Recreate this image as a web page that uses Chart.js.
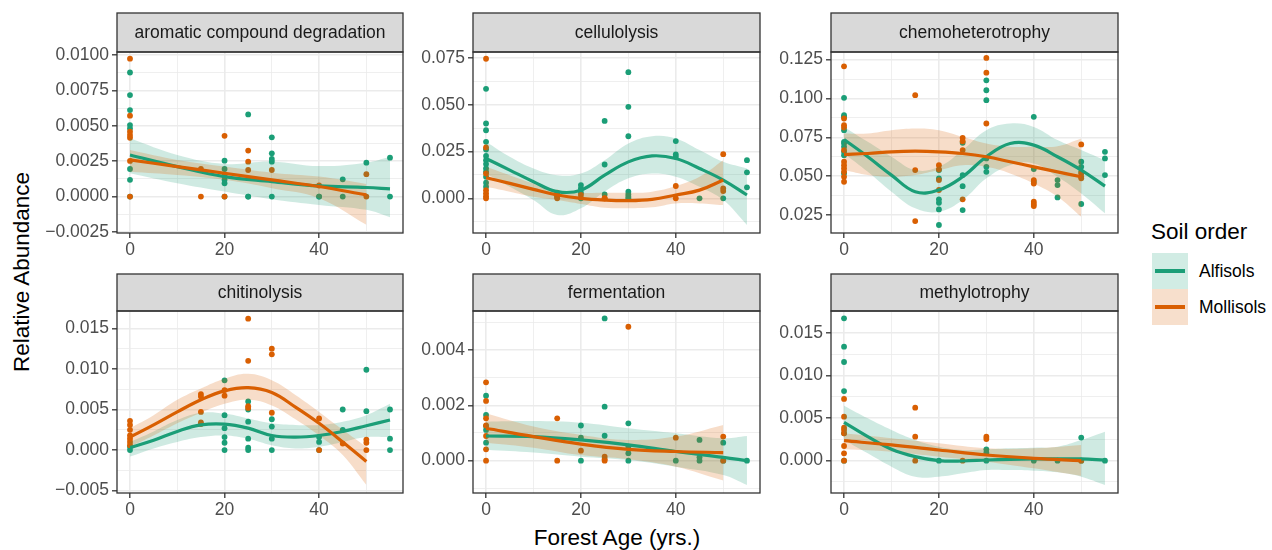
<!DOCTYPE html>
<html lang="en">
<head>
<meta charset="UTF-8">
<title>Functional guilds vs forest age</title>
<script src="https://cdn.jsdelivr.net/npm/chart.js@4.4.1/dist/chart.umd.min.js"></script>
<style>
  body { margin: 0; width: 1272px; height: 550px; background: #fff; position: relative; overflow: hidden;
         font-family: "Liberation Sans", Arial, sans-serif; }
  canvas { position: absolute; }
  .txt { position: absolute; white-space: nowrap; }
  #ytitle { left: -128px; top: 259px; width: 300px; height: 26px; line-height: 26px; text-align: center;
            font-size: 22.5px; transform: rotate(-90deg); }
  #xtitle { left: 417px; top: 525px; width: 400px; line-height: 26px; text-align: center; font-size: 22.5px; }
  #legtitle { left: 1151px; top: 219px; font-size: 22.5px; line-height: 26px; }
  .key { position: absolute; left: 1152px; width: 36px; height: 36px; }
  .key i { position: absolute; left: 3px; width: 30px; height: 4px; top: 16px; }
  .lab { position: absolute; left: 1199px; font-size: 17.5px; line-height: 22px; color: #000; }
</style>
</head>
<body>

<div id="ytitle" class="txt">Relative Abundance</div>
<div id="xtitle" class="txt">Forest Age (yrs.)</div>
<div id="legtitle" class="txt">Soil order</div>
<div class="key" style="top:253px;background:#D1ECE4"><i style="background:#1B9E77"></i></div>
<div class="key" style="top:289px;background:#F7DFCC"><i style="background:#D95F02"></i></div>
<div class="lab" style="top:260px">Alfisols</div>
<div class="lab" style="top:296px">Mollisols</div>

<script>
// ---- axes ----
const xTicks = [0, 20, 40];
const xLabels = ['0', '20', '40'];
const xMinor = [10, 30, 50];

// ---- aromatic compound degradation ----
const aroAlfAge = [0,0,0,0,0,0,0,0, 20,20,20,20,20, 25,25,25, 30,30,30,30,30, 40,40, 45,45, 50, 55,55];
const aroAlfVal = [0.00878,0.00718,0.00612,0.00506,0.00482,0.00195,0.00118,0, 0.00254,0.00195,0.00118,0.00094,0,
                   0.00581,0,0, 0.00419,0.00306,0.00266,0.00247,0, 0,0, 0.00122,0, 0.0024, 0.00275,0];
const aroMolAge = [0,0,0,0,0,0,0, 15,15, 20,20,20, 25,25,25, 30, 40, 50,50];
const aroMolVal = [0.00976,0.00572,0.00459,0.00435,0.00416,0.00252,0, 0.00195,0, 0.0043,0.00148,0,
                   0.00325,0.00247,0.00188, 0.00188, 0.00078, 0.00158,0];
const aroAlfFitAge = [0, 10, 20, 30, 40, 50, 55];
const aroAlfFit = [0.00294, 0.00212, 0.00141, 0.00106, 0.00075, 0.00064, 0.00054];
const aroAlfHi  = [0.00412, 0.00294, 0.00231, 0.00247, 0.00216, 0.0024, 0.00282];
const aroAlfLo  = [0.00165, 0.00094, 0.00035, -0.00019, -0.00059, -0.00094, -0.00146];
const aroMolFitAge = [0, 10, 20, 30, 40, 50];
const aroMolFit = [0.00259, 0.00212, 0.00165, 0.00118, 0.00071, 0.00012];
const aroMolHi  = [0.00329, 0.00259, 0.00212, 0.00169, 0.00141, 0.00089];
const aroMolLo  = [0.00176, 0.00153, 0.00118, 0.00059, -0.00012, -0.002];
const aroTicks = [-0.0025, 0, 0.0025, 0.005, 0.0075, 0.01];
const aroLabels = ['\u22120.0025', '0.0000', '0.0025', '0.0050', '0.0075', '0.0100'];

// ---- cellulolysis ----
const celAlfAge = [0,0,0,0,0,0,0,0,0,0,0,0,0, 15,15, 20,20,20,20, 25,25,25, 30,30,30,30,30,30,30, 40,40,40, 45, 50, 55,55,55];
const celAlfVal = [0.0585,0.04,0.0364,0.0302,0.0261,0.0227,0.0204,0.0183,0.016,0.0142,0.0116,0.0084,0.0062,
                   0.0021,0.0009, 0.0071,0.0053,0.003,0, 0.0414,0.0181,0.0021,
                   0.0674,0.0489,0.0332,0.0036,0.0021,0.0009,0, 0.0306,0.0235,0.0222, 0, 0, 0.0204,0.0139,0.0059];
const celMolAge = [0,0,0,0,0,0,0, 15,15,15, 20, 25,25, 40,40, 50,50,50];
const celMolVal = [0.0746,0.0272,0.0133,0.0044,0.0027,0.0012,0, 0.003,0.0012,0, 0.0018, 0.0001,0,
                   0.0066,0, 0.0236,0.0053,0.0039];
const celAlfFitAge = [0, 5, 10, 15, 20, 25, 30, 35, 40, 45, 50, 55];
const celAlfFit = [0.0213, 0.0151, 0.0089, 0.0036, 0.0044, 0.0124, 0.0195, 0.0227, 0.0213, 0.016, 0.0098, 0.0018];
const celAlfHi  = [0.0302, 0.0222, 0.016, 0.0124, 0.0133, 0.0204, 0.0293, 0.0332, 0.032, 0.0258, 0.0195, 0.016];
const celAlfLo  = [0.0133, 0.0062, -0.0009, -0.0089, -0.0053, 0.0036, 0.0107, 0.0133, 0.0116, 0.0062, -0.0009, -0.0142];
const celMolFitAge = [0, 5, 10, 15, 20, 25, 30, 35, 40, 45, 50];
const celMolFit = [0.011, 0.008, 0.0048, 0.0018, 0, -0.0009, -0.0012, -0.0005, 0.0018, 0.0044, 0.0098];
const celMolHi  = [0.0169, 0.0124, 0.008, 0.0044, 0.003, 0.003, 0.003, 0.0036, 0.0066, 0.0116, 0.0204];
const celMolLo  = [0.0062, 0.0036, 0.0009, -0.0009, -0.003, -0.005, -0.0053, -0.0048, -0.0027, -0.0027, -0.0036];
const celTicks = [0, 0.025, 0.05, 0.075];
const celLabels = ['0.000', '0.025', '0.050', '0.075'];

// ---- chemoheterotrophy ----
const cheAlfAge = [0,0,0,0,0,0,0,0,0,0, 20,20,20,20,20,20, 25,25,25,25, 30,30,30,30,30,30, 40,40,40, 45,45,45, 50,50,50,50, 55,55,55];
const cheAlfVal = [0.1004,0.0892,0.0882,0.0796,0.0721,0.071,0.0689,0.0657,0.0635,0.0518,
                   0.0539,0.0486,0.0351,0.0329,0.0286,0.0186, 0.0715,0.0507,0.0436,0.0282,
                   0.1117,0.1053,0.0989,0.0614,0.056,0.0528, 0.0882,0.0546,0.0464,
                   0.0475,0.0443,0.0363, 0.0593,0.056,0.0528,0.0321, 0.0657,0.0614,0.0507];
const cheMolAge = [0,0,0,0,0,0,0,0,0,0,0, 15,15,15, 20,20,20,20, 25,25,25,25, 30,30,30, 40,40,40,40,40, 50,50,50,50];
const cheMolVal = [0.1207,0.0871,0.0828,0.0813,0.0668,0.0593,0.0571,0.055,0.0528,0.0496,0.0464,
                   0.1021,0.0539,0.0211, 0.0571,0.0543,0.0475,0.0411, 0.0747,0.0725,0.0668,0.0351,
                   0.1261,0.1166,0.0839, 0.0475,0.0453,0.0336,0.0321,0.0308, 0.0704,0.0518,0.0496,0.0486];
const cheAlfFitAge = [0, 5, 10, 15, 20, 25, 30, 35, 40, 45, 50, 55];
const cheAlfFit = [0.0736, 0.0625, 0.0507, 0.04, 0.0411, 0.0496, 0.0625, 0.071, 0.07, 0.0625, 0.0539, 0.0436];
const cheAlfHi  = [0.0817, 0.0721, 0.0625, 0.0539, 0.056, 0.0668, 0.0796, 0.0839, 0.0817, 0.0732, 0.0668, 0.0603];
const cheAlfLo  = [0.0646, 0.0528, 0.04, 0.0293, 0.0271, 0.0346, 0.0486, 0.0571, 0.0582, 0.0496, 0.0389, 0.0261];
const cheMolFitAge = [0, 5, 10, 15, 20, 25, 30, 35, 40, 45, 50];
const cheMolFit = [0.064, 0.0646, 0.0657, 0.0661, 0.0657, 0.0646, 0.0625, 0.0593, 0.056, 0.0528, 0.0496];
const cheMolHi  = [0.0775, 0.0775, 0.0796, 0.0807, 0.0796, 0.0753, 0.071, 0.0689, 0.0689, 0.0693, 0.0743];
const cheMolLo  = [0.0539, 0.0507, 0.0496, 0.0507, 0.0539, 0.0571, 0.056, 0.0518, 0.0453, 0.0368, 0.0239];
const cheTicks = [0.025, 0.05, 0.075, 0.1, 0.125];
const cheLabels = ['0.025', '0.050', '0.075', '0.100', '0.125'];

// ---- chitinolysis ----
const chiAlfAge = [0,0, 20,20,20,20,20,20, 25,25,25,25,25,25, 30,30,30,30, 40,40,40, 45,45, 50,50, 55,55,55];
const chiAlfVal = [0.0004,0, 0.0086,0.0043,0.0027,0.0016,0.0009,0, 0.006,0.005,0.0035,0.0014,0.0003,0,
                   0.0038,0.0029,0.0014,0, 0.0016,0.001,0, 0.005,0.0025, 0.0099,0.0048, 0.005,0.0014,0];
const chiMolAge = [0,0,0,0,0,0,0, 15,15,15,15,15, 20,20, 25,25,25,25, 30,30,30, 40,40, 45, 50,50,50];
const chiMolVal = [0.0036,0.0031,0.0025,0.0018,0.0014,0.001,0.0006, 0.0069,0.0066,0.0047,0.0034,0.0032,
                   0.0074,0.0067, 0.0162,0.011,0.0054,0.0052, 0.0125,0.0118,0.0046, 0.0039,0, 0.0008, 0.0013,0.0009,0];
const chiAlfFitAge = [0, 5, 10, 15, 20, 25, 30, 35, 40, 45, 50, 55];
const chiAlfFit = [0.0003, 0.0012, 0.0023, 0.0031, 0.0032, 0.0027, 0.0018, 0.0016, 0.0018, 0.0023, 0.003, 0.0037];
const chiAlfHi  = [0.001, 0.0023, 0.0037, 0.0046, 0.0045, 0.0039, 0.0033, 0.0031, 0.0031, 0.0035, 0.0043, 0.0057];
const chiAlfLo  = [-0.0008, 0.0002, 0.001, 0.0016, 0.0018, 0.0014, 0.0006, 0.0002, 0.0004, 0.001, 0.0016, 0.0016];
const chiMolFitAge = [0, 5, 10, 15, 20, 25, 30, 35, 40, 45, 50];
const chiMolFit = [0.0016, 0.0031, 0.0047, 0.0062, 0.0073, 0.0077, 0.0071, 0.0053, 0.0033, 0.001, -0.0014];
const chiMolHi  = [0.0027, 0.0043, 0.0062, 0.0076, 0.0088, 0.0094, 0.0086, 0.0068, 0.0047, 0.0025, 0.0004];
const chiMolLo  = [0.0004, 0.0018, 0.0033, 0.0046, 0.0057, 0.0062, 0.0055, 0.0038, 0.0018, -0.0006, -0.0043];
const chiTicks = [-0.005, 0, 0.005, 0.01, 0.015];
const chiLabels = ['\u22120.005', '0.000', '0.005', '0.010', '0.015'];

// ---- fermentation ----
const ferAlfAge = [0,0,0,0,0, 20,20,20, 25,25,25, 30,30,30,30, 40, 45,45,45, 50,50, 55];
const ferAlfVal = [0.00235,0.00165,0.00125,0.00111,0.00065, 0.00127,0.00083,0, 0.00514,0.00195,0.0009,
                   0.00135,0.00051,0.00027,0, 0, 0.00075,0.00012,0, 0.00065,0, 0];
const ferMolAge = [0,0,0,0,0,0,0, 15,15, 20, 25,25,25, 30, 40, 50,50];
const ferMolVal = [0.00283,0.00216,0.00153,0.00127,0.00089,0.00041,0, 0.00153,0, 0.00036,
                   0.00014,0.00005,0, 0.00484, 0.00083, 0.00087,0];
const ferAlfFitAge = [0, 10, 20, 30, 40, 50, 55];
const ferAlfFit = [0.00089, 0.00087, 0.00075, 0.00057, 0.00033, 0.00012, 0];
const ferAlfHi  = [0.00141, 0.00143, 0.00137, 0.00117, 0.00099, 0.00081, 0.00089];
const ferAlfLo  = [0.00039, 0.00029, 0.00014, 0.00002, -0.00022, -0.00052, -0.00088];
const ferMolFitAge = [0, 10, 20, 30, 40, 50];
const ferMolFit = [0.00117, 0.00087, 0.0006, 0.00041, 0.00033, 0.00029];
const ferMolHi  = [0.00171, 0.00123, 0.00093, 0.00075, 0.00087, 0.00129];
const ferMolLo  = [0.00065, 0.00047, 0.0002, 0.00005, -0.00022, -0.00072];
const ferTicks = [0, 0.002, 0.004];
const ferLabels = ['0.000', '0.002', '0.004'];

// ---- methylotrophy ----
const metAlfAge = [0,0,0,0,0,0, 20, 30,30,30, 40, 45, 50,50, 55];
const metAlfVal = [0.01668,0.01336,0.01156,0.00816,0.0032,0, 0, 0.00133,0.00094,0, 0, 0, 0.0027,0, 0];
const metMolAge = [0,0,0,0,0,0,0,0, 15,15,15, 25, 30,30, 50];
const metMolVal = [0.00723,0.00516,0.00387,0.00359,0.0032,0.00172,0.00086,0, 0.00621,0.00281,0, 0,
                   0.00281,0.00254, 0];
const metAlfFitAge = [0, 5, 10, 15, 20, 25, 30, 35, 40, 45, 50, 55];
const metAlfFit = [0.00449, 0.00281, 0.00133, 0.00047, 0, -0.00004, 0.00008, 0.00016, 0.0002, 0.0002, 0.0002, 0.00008];
const metAlfHi  = [0.00645, 0.00496, 0.00359, 0.00242, 0.00164, 0.00125, 0.00133, 0.00145, 0.00152, 0.00164, 0.00242, 0.0034];
const metAlfLo  = [0.00242, 0.00086, -0.0007, -0.00188, -0.00188, -0.00148, -0.00109, -0.00109, -0.00117, -0.00137, -0.00188, -0.00285];
const metMolFitAge = [0, 10, 20, 30, 40, 50];
const metMolFit = [0.00234, 0.00184, 0.00125, 0.00066, 0.00027, 0];
const metMolHi  = [0.0032, 0.00262, 0.00203, 0.00145, 0.00145, 0.00184];
const metMolLo  = [0.00133, 0.00105, 0.00047, -0.00012, -0.0009, -0.0018];
const metTicks = [0, 0.005, 0.01, 0.015];
const metLabels = ['0.000', '0.005', '0.010', '0.015'];

// colours
const ALF = '#1B9E77', MOL = '#D95F02';
const ALF_BAND = 'rgba(27,158,119,0.21)', MOL_BAND = 'rgba(217,95,2,0.21)';
const FONT = '"Liberation Sans", Arial, sans-serif';

function pts(ages, vals) { return ages.map((a, i) => ({ x: a, y: vals[i] })); }

// major ticks plus minor (midpoint) grid positions
function tickList(vals, labels, minor) {
  const t = vals.map((v, i) => ({ value: v, txt: labels[i] }));
  minor.forEach(v => t.push({ value: v, txt: '', minor: true }));
  return t.sort((a, b) => a.value - b.value);
}
function midpoints(vals, min, max) {
  const step = vals[1] - vals[0], out = [];
  for (let v = vals[0] - step / 2; v < max; v += step) if (v > min) out.push(v);
  return out;
}

const gridOpts = {
  color: '#EBEBEB',
  lineWidth: c => (c.tick && c.tick.minor) ? 0.8 : 1.6,
  tickColor: c => (c.tick && c.tick.minor) ? 'rgba(0,0,0,0)' : '#333333',
  tickWidth: 1.3,
  tickLength: 5
};

const stripPlugin = {
  id: 'strip',
  afterDraw(chart) {
    const { ctx, chartArea: a } = chart;
    ctx.save();
    ctx.fillStyle = '#D9D9D9';
    ctx.fillRect(a.left, 1, a.right - a.left, a.top - 1);
    ctx.strokeStyle = '#333333';
    ctx.lineWidth = 1.3;
    ctx.strokeRect(a.left, 1, a.right - a.left, a.top - 1);
    ctx.strokeRect(a.left, a.top, a.right - a.left, a.bottom - a.top);
    ctx.fillStyle = '#1A1A1A';
    ctx.font = '17.5px ' + FONT;
    ctx.textAlign = 'center';
    ctx.textBaseline = 'middle';
    ctx.fillText(chart.options.plugins.strip.title, (a.left + a.right) / 2, (a.top + 1) / 2 + 1);
    ctx.restore();
  }
};

function panel(p) {
  const padL = 90, padR = 10, axisH = 30;
  const cv = document.createElement('canvas');
  cv.width = padL + (p.R - p.L) + padR;
  cv.height = (p.B - p.top) + axisH;
  cv.style.left = (p.L - padL) + 'px';
  cv.style.top = p.top + 'px';
  document.body.appendChild(cv);

  const yT = tickList(p.yTicks, p.yLabels, midpoints(p.yTicks, p.yMin, p.yMax));
  const xT = tickList(xTicks, xLabels, xMinor);

  const band = (ages, hi, lo, col, ord) => [
    { type: 'line', data: pts(ages, hi), borderWidth: 0, pointRadius: 0, fill: '+1', backgroundColor: col, tension: 0.4, order: ord },
    { type: 'line', data: pts(ages, lo), borderWidth: 0, pointRadius: 0, fill: false, tension: 0.4, order: ord }
  ];
  const fit = (ages, v, col, ord) => ({ type: 'line', data: pts(ages, v), borderColor: col, borderWidth: 3.2,
    pointRadius: 0, fill: false, tension: 0.4, order: ord, borderCapStyle: 'butt' });
  const dots = (ages, v, col, ord) => ({ type: 'scatter', data: pts(ages, v), backgroundColor: col,
    pointRadius: 2.9, pointBorderWidth: 0, order: ord });

  new Chart(cv, {
    type: 'scatter',
    data: {
      datasets: [
        ...band(p.alf.fitAge, p.alf.hi, p.alf.lo, ALF_BAND, 3),
        ...band(p.mol.fitAge, p.mol.hi, p.mol.lo, MOL_BAND, 2),
        fit(p.alf.fitAge, p.alf.fit, ALF, 1),
        fit(p.mol.fitAge, p.mol.fit, MOL, 0),
        dots(p.alf.age, p.alf.val, ALF, 5),
        dots(p.mol.age, p.mol.val, MOL, 4)
      ]
    },
    options: {
      responsive: false,
      animation: false,
      devicePixelRatio: 1,
      layout: { padding: { top: p.T - p.top, right: padR, left: 0, bottom: 0 } },
      plugins: { legend: { display: false }, tooltip: { enabled: false }, strip: { title: p.title } },
      scales: {
        x: {
          type: 'linear', min: -2.75, max: 57.75,
          afterBuildTicks: s => { s.ticks = xT.map(t => Object.assign({}, t)); },
          afterFit: s => { s.height = axisH; },
          ticks: { autoSkip: false, maxRotation: 0, padding: 2, color: '#4D4D4D',
                   font: { family: FONT, size: 17.5 }, callback: (v, i, t) => t[i].txt },
          grid: gridOpts,
          border: { display: false }
        },
        y: {
          type: 'linear', min: p.yMin, max: p.yMax,
          afterBuildTicks: s => { s.ticks = yT.map(t => Object.assign({}, t)); },
          afterFit: s => { s.width = padL; },
          ticks: { autoSkip: false, padding: 3, color: '#4D4D4D',
                   font: { family: FONT, size: 17.5 }, callback: (v, i, t) => t[i].txt },
          grid: gridOpts,
          border: { display: false }
        }
      }
    },
    plugins: [stripPlugin]
  });
}

const row1 = { top: 12, T: 52, B: 233 };
const row2 = { top: 273, T: 311, B: 493 };
const col1 = { L: 117, R: 403 }, col2 = { L: 473, R: 760 }, col3 = { L: 831, R: 1118 };

panel(Object.assign({}, row1, col1, {
  title: 'aromatic compound degradation', yMin: -0.00258, yMax: 0.01023, yTicks: aroTicks, yLabels: aroLabels,
  alf: { age: aroAlfAge, val: aroAlfVal, fitAge: aroAlfFitAge, fit: aroAlfFit, hi: aroAlfHi, lo: aroAlfLo },
  mol: { age: aroMolAge, val: aroMolVal, fitAge: aroMolFitAge, fit: aroMolFit, hi: aroMolHi, lo: aroMolLo }
}));
panel(Object.assign({}, row1, col2, {
  title: 'cellulolysis', yMin: -0.0185, yMax: 0.0782, yTicks: celTicks, yLabels: celLabels,
  alf: { age: celAlfAge, val: celAlfVal, fitAge: celAlfFitAge, fit: celAlfFit, hi: celAlfHi, lo: celAlfLo },
  mol: { age: celMolAge, val: celMolVal, fitAge: celMolFitAge, fit: celMolFit, hi: celMolHi, lo: celMolLo }
}));
panel(Object.assign({}, row1, col3, {
  title: 'chemoheterotrophy', yMin: 0.01344, yMax: 0.1299, yTicks: cheTicks, yLabels: cheLabels,
  alf: { age: cheAlfAge, val: cheAlfVal, fitAge: cheAlfFitAge, fit: cheAlfFit, hi: cheAlfHi, lo: cheAlfLo },
  mol: { age: cheMolAge, val: cheMolVal, fitAge: cheMolFitAge, fit: cheMolFit, hi: cheMolHi, lo: cheMolLo }
}));
panel(Object.assign({}, row2, col1, {
  title: 'chitinolysis', yMin: -0.00529, yMax: 0.01714, yTicks: chiTicks, yLabels: chiLabels,
  alf: { age: chiAlfAge, val: chiAlfVal, fitAge: chiAlfFitAge, fit: chiAlfFit, hi: chiAlfHi, lo: chiAlfLo },
  mol: { age: chiMolAge, val: chiMolVal, fitAge: chiMolFitAge, fit: chiMolFit, hi: chiMolHi, lo: chiMolLo }
}));
panel(Object.assign({}, row2, col2, {
  title: 'fermentation', yMin: -0.00117, yMax: 0.00541, yTicks: ferTicks, yLabels: ferLabels,
  alf: { age: ferAlfAge, val: ferAlfVal, fitAge: ferAlfFitAge, fit: ferAlfFit, hi: ferAlfHi, lo: ferAlfLo },
  mol: { age: ferMolAge, val: ferMolVal, fitAge: ferMolFitAge, fit: ferMolFit, hi: ferMolHi, lo: ferMolLo }
}));
panel(Object.assign({}, row2, col3, {
  title: 'methylotrophy', yMin: -0.00379, yMax: 0.01754, yTicks: metTicks, yLabels: metLabels,
  alf: { age: metAlfAge, val: metAlfVal, fitAge: metAlfFitAge, fit: metAlfFit, hi: metAlfHi, lo: metAlfLo },
  mol: { age: metMolAge, val: metMolVal, fitAge: metMolFitAge, fit: metMolFit, hi: metMolHi, lo: metMolLo }
}));
</script>
</body>
</html>
